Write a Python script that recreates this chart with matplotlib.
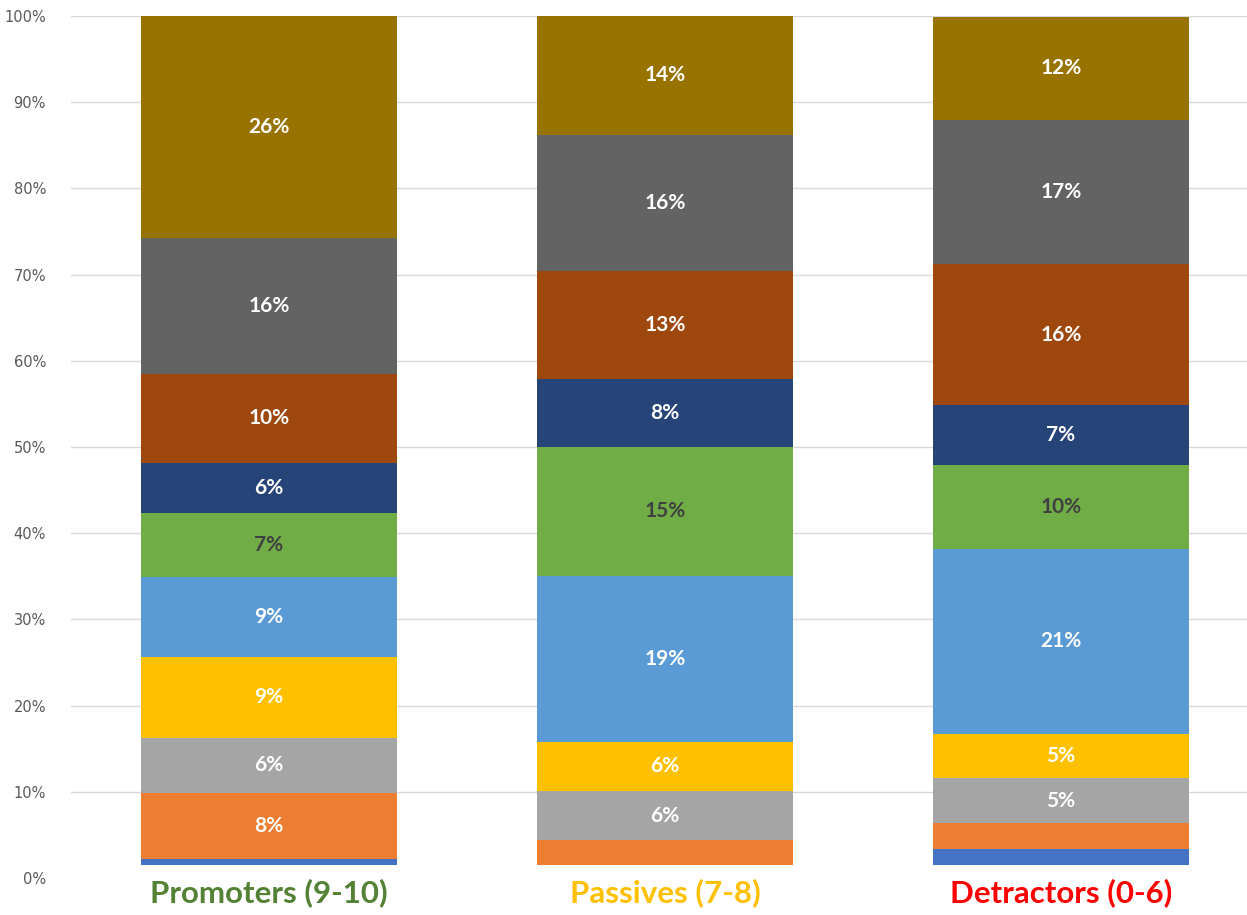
import numpy as np
import matplotlib.pyplot as plt

# categorias e cores dos rótulos
categorias = ['Promoters (9-10)', 'Passives (7-8)', 'Detractors (0-6)']
cores_categorias = ['#548235', '#FFC000', '#FF0000']

# faixa vazia na base das barras (em %)
base = [1.5, 1.5, 1.5]

# séries (de baixo para cima), valores em %
s1 = [0.7, 0.0, 1.85]
s2 = [7.66, 2.9, 3.0]
s3 = [6.4, 5.7, 5.2]
s4 = [9.4, 5.7, 5.2]
s5 = [9.3, 19.25, 21.4]
s6 = [7.4, 15.0, 9.8]
s7 = [5.8, 7.8, 6.9]
s8 = [10.3, 12.6, 16.4]
s9 = [15.8, 15.7, 16.7]
s10 = [25.8, 13.9, 11.95]

series = [s1, s2, s3, s4, s5, s6, s7, s8, s9, s10]
cores = ['#4472C4', '#ED7D31', '#A5A5A5', '#FFC000', '#5B9BD5',
         '#70AD47', '#264478', '#9E480E', '#636363', '#997300']
cor_texto = ['white'] * 5 + ['#404040'] + ['white'] * 4

fonte = ['Lato', 'DejaVu Sans']

fig = plt.figure(figsize=(12.47, 9.15), dpi=100)
ax = fig.add_axes([71 / 1247, 1 - 878 / 915, 1 - 71 / 1247, (878 - 16) / 915])

x = np.arange(len(categorias))
largura = 0.646
fundo = np.array(base, dtype=float)

for vals, cor, ct in zip(series, cores, cor_texto):
    vals = np.array(vals)
    ax.bar(x, vals, largura, bottom=fundo, color=cor, edgecolor='none', zorder=3)
    for xi, v, b in zip(x, vals, fundo):
        if v >= 4:
            ax.text(xi, b + v / 2, f'{round(v):.0f}%', ha='center', va='center',
                    color=ct, fontsize=15, fontweight='bold', family=fonte, zorder=4)
    fundo = fundo + vals

ax.set_xlim(-0.5, 2.47)
ax.set_ylim(0, 100)
ax.set_yticks(np.arange(0, 101, 10))
ax.set_yticklabels([f'{v}%' for v in range(0, 101, 10)], color='#595959', fontsize=10.5)
ax.tick_params(axis='y', length=0, pad=18)
ax.tick_params(axis='x', length=0)
ax.set_xticks([])
ax.yaxis.grid(True, color='#D9D9D9', linewidth=1, zorder=0)
ax.yaxis.get_gridlines()[0].set_visible(False)
for lado in ax.spines.values():
    lado.set_visible(False)

for xi, nome, cor in zip(x, categorias, cores_categorias):
    ax.text(xi, -1.75, nome, ha='center', va='center', color=cor,
            fontsize=22.5, fontweight='bold', family=fonte, clip_on=False)

fig.savefig('out.png', dpi=100)
